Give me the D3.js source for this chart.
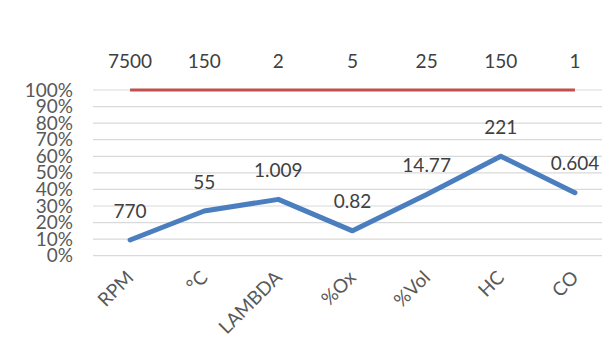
<!DOCTYPE html>
<html>
<head>
<meta charset="utf-8">
<script src="https://cdn.jsdelivr.net/npm/d3@7/dist/d3.min.js"></script>
<style>
  html, body { margin: 0; padding: 0; background: #fff; }
  svg { display: block; font-family: Lato, "Open Sans", sans-serif; }
</style>
</head>
<body>
<svg id="chart" width="602" height="338"></svg>
<script>
// Measured channels and their full-scale ranges
const categories = ["RPM", "°C", "LAMBDA", "%Ox", "%Vol", "HC", "CO"];
const readings = ["770", "55", "1.009", "0.82", "14.77", "221", "0.604"];
const readingShare = [0.095, 0.27, 0.34, 0.15, 0.37, 0.60, 0.38];
const fullScale = ["7500", "150", "2", "5", "25", "150", "1"];
const fullScaleShare = [1, 1, 1, 1, 1, 1, 1];
const yTicks = [0, 0.1, 0.2, 0.3, 0.4, 0.5, 0.6, 0.7, 0.8, 0.9, 1.0];

const svg = d3.select("#chart");
const W = 602;

const x = d3.scaleBand().domain(categories).range([93, 612]).padding(0);
const y = d3.scaleLinear().domain([0, 1]).range([255.7, 90]);
const cx = c => x(c) + x.bandwidth() / 2;

// Horizontal gridlines
svg.append("g").selectAll("line").data(yTicks).join("line")
  .attr("x1", 93).attr("x2", W)
  .attr("y1", d => y(d)).attr("y2", d => y(d))
  .attr("stroke", "#d9d9d9").attr("stroke-width", 1.2);

// Y axis labels
const yAxis = d3.axisLeft(y).tickValues(yTicks).tickFormat(d3.format(".0%")).tickSize(0).tickPadding(0);
const ya = svg.append("g").attr("transform", "translate(73,0)").call(yAxis);
ya.select(".domain").remove();
ya.selectAll("text")
  .attr("fill", "#595959")
  .style("font-size", "19px")
  .style("font-family", "Lato, 'Open Sans', sans-serif");

// Category labels, rotated
const xAxis = d3.axisBottom(x).tickSize(0).tickPadding(0);
const xa = svg.append("g").call(xAxis);
xa.select(".domain").remove();
xa.selectAll(".tick").attr("transform", d => `translate(${cx(d)},274)`);
xa.selectAll("text")
  .attr("y", 0).attr("dy", "0.35em")
  .attr("text-anchor", "end")
  .attr("transform", "rotate(-45)")
  .attr("fill", "#595959")
  .style("font-size", "19px")
  .style("font-family", "Lato, 'Open Sans', sans-serif");

const line = d3.line().x(d => cx(d.c)).y(d => y(d.v));

const maxPts = categories.map((c, i) => ({ c, v: fullScaleShare[i], label: fullScale[i] }));
const curPts = categories.map((c, i) => ({ c, v: readingShare[i], label: readings[i] }));

// Full-scale reference line
svg.append("path").datum(maxPts)
  .attr("d", line).attr("fill", "none")
  .attr("stroke", "#c0504d").attr("stroke-width", 3);

// Current readings
svg.append("path").datum(curPts)
  .attr("d", line).attr("fill", "none")
  .attr("stroke", "#4a7ebf").attr("stroke-width", 5)
  .attr("stroke-linejoin", "round").attr("stroke-linecap", "round");

// Data labels
function labels(pts) {
  svg.append("g").selectAll("text").data(pts).join("text")
    .attr("x", d => cx(d.c))
    .attr("y", d => y(d.v) - 29)
    .attr("dy", "0.35em")
    .attr("text-anchor", "middle")
    .attr("fill", "#404040")
    .style("font-size", "19px")
    .text(d => d.label);
}
labels(maxPts);
labels(curPts);
</script>
</body>
</html>
